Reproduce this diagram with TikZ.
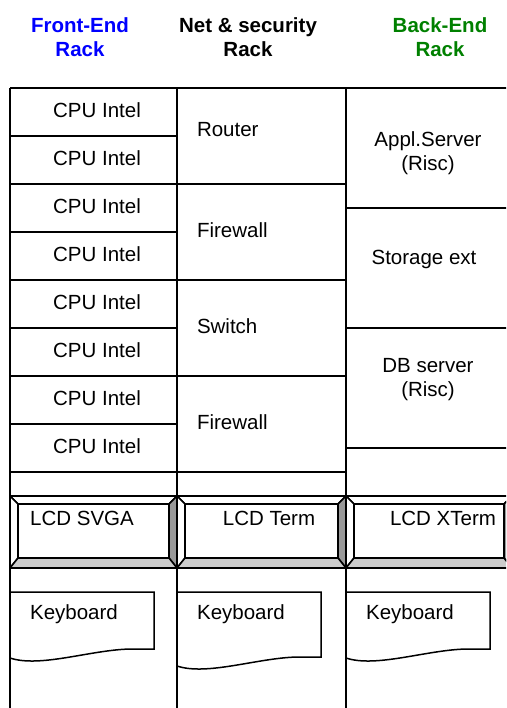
\documentclass[tikz,border=0pt]{standalone}
\usepackage{fontspec}
\setmainfont{Liberation Sans}
\usepackage{tikz}
\usetikzlibrary{positioning}
\definecolor{feblue}{RGB}{0,0,255}
\definecolor{begreen}{RGB}{0,128,0}
\definecolor{bevdark}{RGB}{153,153,153}
\definecolor{bevlight}{RGB}{204,204,204}

\begin{document}
\begin{tikzpicture}[x=1pt, y=-1pt, line width=2pt,
    every node/.style={font=\fontsize{20.5}{24}\selectfont, inner sep=0pt, align=center},
    head/.style={font=\fontsize{20.5}{24}\selectfont\bfseries},
    bev/.style={line width=1.6pt, line join=round},
    kbd/.style={line width=1.5pt}]
    \useasboundingbox (0,0) rectangle (506,708);
    \clip (0,0) rectangle (506,708);

    % rack titles
    \node[head, text=feblue] (fe) at (80,37) {Front-End\\Rack};
    \node[head] (ns) at (248,37) {Net \& security\\Rack};
    \node[head, text=begreen] (be) at (440,37) {Back-End\\Rack};

    % rack frames
    \draw (10,88) -- (512,88);
    \foreach \xc in {10,177,346}
        \draw (\xc,88) -- (\xc,708);

    % front-end rack
    \foreach \i in {1,...,8} {
        \draw (10,88+48*\i) -- (177,88+48*\i);
        \node (cpu\i) at (97,62+48*\i) {CPU Intel};
    }

    % net & security rack
    \foreach \yc in {184,280,376,472}
        \draw (177,\yc) -- (346,\yc);
    \node[anchor=west] (router) at (196,130) {Router};
    \node[anchor=west] (fw1) at (196,230) {Firewall};
    \node[anchor=west] (switch) at (196,326) {Switch};
    \node[anchor=west] (fw2) at (196,422) {Firewall};

    % back-end rack
    \foreach \yc in {208,328,448}
        \draw (346,\yc) -- (512,\yc);
    \node (appl) at (428,153) {Appl.Server\\(Risc)};
    \node (storage) at (424,259) {Storage ext};
    \node (db) at (428,380) {DB server\\(Risc)};

    % consoles
    \foreach \xl/\xr in {10/177,177/346,346/512} {
        \filldraw[bev, fill=white] (\xl,496) -- (\xr,496) -- (\xr-8,504) -- (\xl+8,504) -- cycle;
        \filldraw[bev, fill=white] (\xl,496) -- (\xl+8,504) -- (\xl+8,558) -- (\xl,568) -- cycle;
        \filldraw[bev, fill=bevdark] (\xr,496) -- (\xr,568) -- (\xr-8,558) -- (\xr-8,504) -- cycle;
        \filldraw[bev, fill=bevlight] (\xl,568) -- (\xr,568) -- (\xr-8,558) -- (\xl+8,558) -- cycle;
        \draw[bev] (\xl+8,504) rectangle (\xr-8,558);
    }
    \node (lcd1) at (82,518) {LCD SVGA};
    \node (lcd2) at (269,518) {LCD Term};
    \node (lcd3) at (443,518) {LCD XTerm};

    % keyboards
    \foreach \xl/\dy/\k in {10/0/1,177/8/2,346/0/3} {
        \filldraw[kbd, fill=white] (\xl,592) -- (\xl+144,592) -- (\xl+144,649+\dy) -- (\xl+120,649+\dy)
            .. controls (\xl+80,650+\dy) and (\xl+30,668+\dy) .. (\xl,658+\dy) -- cycle;
        \node (kbd\k) at (\xl+64,614) {Keyboard};
    }
    \foreach \xc in {10,177,346}
        \draw (\xc,568) -- (\xc,708);
\end{tikzpicture}
\end{document}
